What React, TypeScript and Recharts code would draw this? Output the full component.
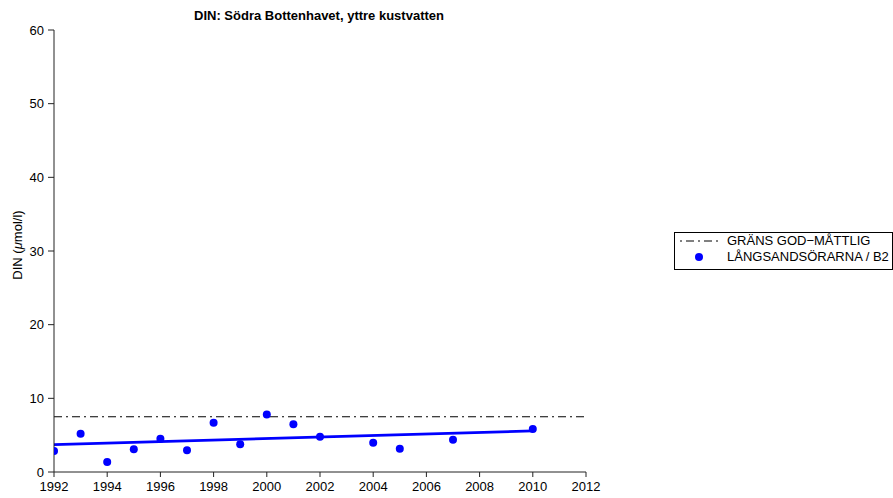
import React from 'react';
import { ComposedChart, Scatter, Line, XAxis, YAxis, Legend, Label } from 'recharts';

const title = 'DIN: Södra Bottenhavet, yttre kustvatten';
const years = [1992, 1993, 1994, 1995, 1996, 1997, 1998, 1999, 2000, 2001, 2002, 2004, 2005, 2007, 2010];
const dinValues = [2.85, 5.2, 1.36, 3.08, 4.52, 2.94, 6.7, 3.76, 7.8, 6.47, 4.8, 3.98, 3.17, 4.39, 5.84];
const trendYears = [1992, 2010];
const trendValues = [3.71, 5.57];
const thresholdYears = [1992, 2012];
const thresholdValue = 7.5;
const xTicks = [1992, 1994, 1996, 1998, 2000, 2002, 2004, 2006, 2008, 2010, 2012];
const yTicks = [0, 10, 20, 30, 40, 50, 60];
const legendThreshold = 'GRÄNS GOD\u2212MÅTTLIG';
const legendStation = 'LÅNGSANDSÖRARNA / B2';

const pointData = years.map((y, i) => ({ year: y, value: dinValues[i] }));
const trendData = trendYears.map((y, i) => ({ year: y, value: trendValues[i] }));
const thresholdData = thresholdYears.map((y) => ({ year: y, value: thresholdValue }));

const FONT = '"Liberation Sans", Arial, Helvetica, sans-serif';
const BLUE = '#0000ff';
const AXIS = '#222';

const Dot = (props: any) => {
  const { cx, cy } = props;
  if (cx == null || cy == null) return null;
  return <circle cx={cx} cy={cy} r={4} fill={BLUE} stroke="none" />;
};

const YLabel = (props: any) => {
  const vb = props.viewBox || {};
  const cx = 17;
  const cy = (vb.y ?? 30) + (vb.height ?? 442) / 2 - 6;
  return (
    <text x={cx} y={cy} transform={`rotate(-90 ${cx} ${cy})`} textAnchor="middle" dominantBaseline="central"
      fontFamily={FONT} fontSize={13} fill="#000">
      DIN (<tspan fontStyle="italic">μ</tspan>mol/l)
    </text>
  );
};

const LegendBox = () => (
  <div style={{ border: '1px solid #000', background: '#fff', boxSizing: 'border-box', width: 219, height: 38,
    fontFamily: FONT, fontSize: 13, color: '#000', padding: 0, lineHeight: '16px' }}>
    <div style={{ display: 'flex', alignItems: 'center', height: 16 }}>
      <svg width={47} height={10} style={{ marginLeft: 5, flex: 'none' }}>
        <line x1={0} y1={5} x2={42} y2={5} stroke="#000" strokeWidth={1} strokeDasharray="2 4 8 4" />
      </svg>
      <span style={{ whiteSpace: 'nowrap' }}>{legendThreshold}</span>
    </div>
    <div style={{ display: 'flex', alignItems: 'center', height: 16 }}>
      <svg width={47} height={10} style={{ marginLeft: 5, flex: 'none' }}>
        <circle cx={19} cy={5} r={4} fill={BLUE} />
      </svg>
      <span style={{ whiteSpace: 'nowrap' }}>{legendStation}</span>
    </div>
  </div>
);

export default function App() {
  return (
    <div style={{ position: 'absolute', left: 0, top: 0, width: 893, height: 498, background: '#fff' }}>
      <div style={{ position: 'absolute', left: 0, width: 638, top: 8, textAlign: 'center', fontFamily: FONT,
        fontWeight: 'bold', fontSize: 13, color: '#000', zIndex: 2, whiteSpace: 'nowrap' }}>
        {title}
      </div>
      <ComposedChart width={893} height={498} margin={{ top: 30, right: 307, bottom: 0, left: 0 }}>
        <XAxis dataKey="year" type="number" domain={[1992, 2012]} ticks={xTicks} allowDataOverflow
          tickSize={5} tickMargin={5} height={26} stroke={AXIS}
          tick={{ fontFamily: FONT, fontSize: 13, fill: '#000' }} />
        <YAxis type="number" domain={[0, 60]} ticks={yTicks} allowDataOverflow width={54}
          tickSize={6} tickMargin={4} stroke={AXIS}
          tick={{ fontFamily: FONT, fontSize: 13, fill: '#000' }}>
          <Label content={<YLabel />} />
        </YAxis>
        <Line data={thresholdData} dataKey="value" stroke="#000" strokeWidth={1} strokeDasharray="8 4 2 4"
          dot={false} activeDot={false} isAnimationActive={false} />
        <Line data={trendData} dataKey="value" stroke={BLUE} strokeWidth={2.8}
          dot={false} activeDot={false} isAnimationActive={false} />
        <Scatter data={pointData} dataKey="value" fill={BLUE} shape={<Dot />} isAnimationActive={false} />
        <Legend layout="horizontal" verticalAlign="middle" align="center" content={<LegendBox />}
          wrapperStyle={{ left: 674, top: 232, width: 219, height: 38 }} />
      </ComposedChart>
    </div>
  );
}
